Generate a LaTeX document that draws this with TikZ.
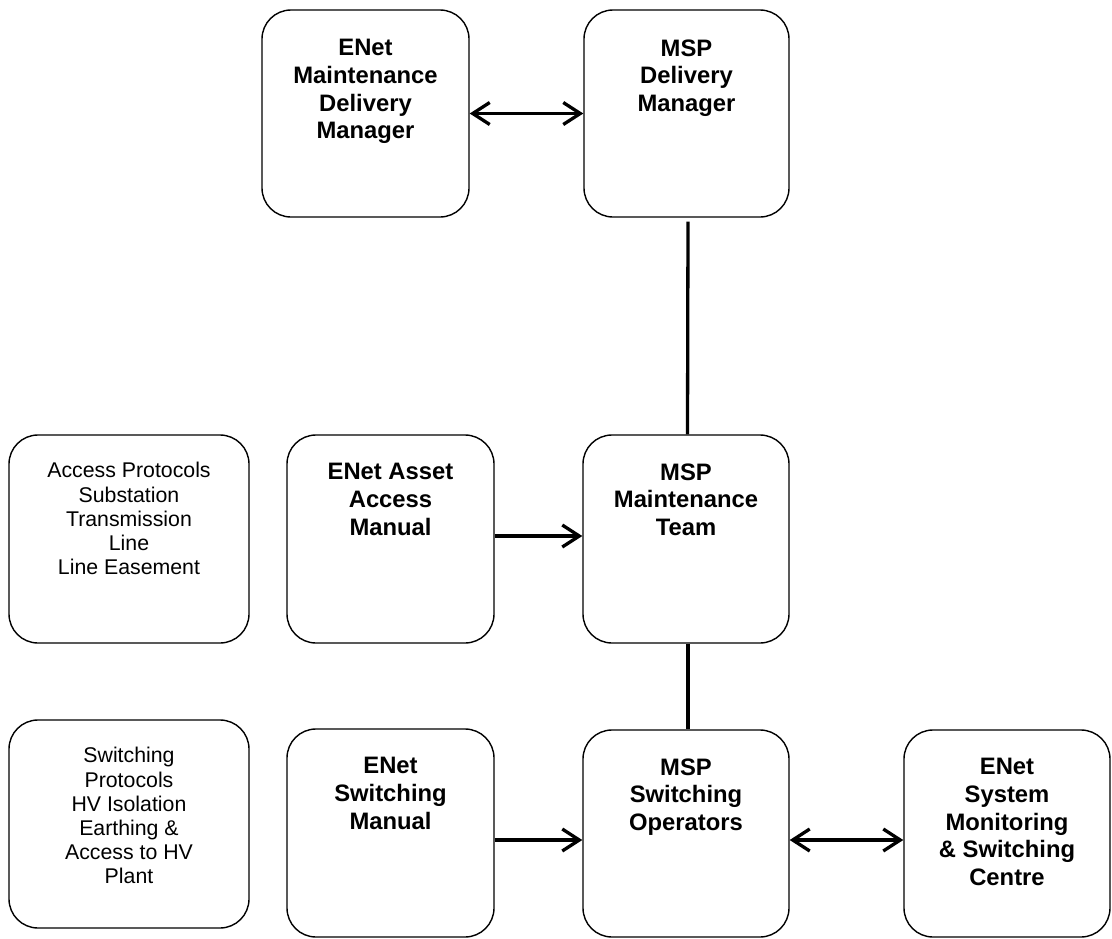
\documentclass[tikz,border=0pt]{standalone}
\usepackage{fontspec}
\setmainfont{Liberation Sans}
\usetikzlibrary{arrows.meta}
\begin{document}
\begin{tikzpicture}[x=1pt,y=-1pt,
  box/.style={draw=black, line width=1.4pt, rounded corners=29pt, inner sep=0pt},
  btxt/.style={anchor=north, align=center, inner sep=0pt, font=\fontsize{23.8}{27.7}\selectfont\bfseries},
  ptxt/.style={anchor=north, align=center, inner sep=0pt, font=\fontsize{21.3}{24.2}\selectfont},
  conn/.style={line width=3.3pt},
  tip/.tip={Straight Barb[length=17pt,width=22pt]},
  arr/.style={conn, -tip},
  darr/.style={conn, tip-tip}
]
\useasboundingbox (0,0) rectangle (1112,938);
\newcommand{\mybox}[5]{\node[box, minimum width=#4-#2, minimum height=#5-#3] (#1) at ({(#2+#4)/2},{(#3+#5)/2}) {};}
\mybox{b1}{262}{10}{469}{217}
\mybox{b2}{584}{10}{789}{217}
\mybox{b3}{9}{435}{249}{643}
\mybox{b4}{287}{435}{494}{643}
\mybox{b5}{583}{435}{789}{643}
\mybox{b6}{9}{720}{249}{928}
\mybox{b7}{287}{729}{494}{937}
\mybox{b8}{583}{730}{789}{937}
\mybox{b9}{904}{730}{1110}{937}

\node[btxt] (t1) at ([yshift=-30pt]b1.north) {ENet\\Maintenance\\Delivery\\Manager};
\node[btxt] (t2) at ([yshift=-30pt]b2.north) {MSP\\Delivery\\Manager};
\node[ptxt] (t3) at ([yshift=-28pt]b3.north) {Access Protocols\\Substation\\Transmission\\Line\\Line Easement};
\node[btxt] (t4) at ([yshift=-29pt]b4.north) {ENet Asset\\Access\\Manual};
\node[btxt] (t5) at ([yshift=-29pt]b5.north) {MSP\\Maintenance\\Team};
\node[ptxt] (t6) at ([yshift=-28pt]b6.north) {Switching\\Protocols\\HV Isolation\\Earthing \&\\Access to HV\\Plant};
\node[btxt] (t7) at ([yshift=-29pt]b7.north) {ENet\\Switching\\Manual};
\node[btxt] (t8) at ([yshift=-29pt]b8.north) {MSP\\Switching\\Operators};
\node[btxt] (t9) at ([yshift=-29pt]b9.north) {ENet\\System\\Monitoring\\\& Switching\\Centre};

\draw[darr] (b1.east) -- (b2.west);
\draw[conn] ([xshift=1.5pt,yshift=-4pt]b2.south) -- ([xshift=1.5pt]b5.north);
\draw[arr] ([yshift=3pt]b4.east) -- ([yshift=3pt]b5.west);
\draw[conn] ([xshift=2pt]b5.south) -- ([xshift=2pt]b8.north);
\draw[arr] ([yshift=-7pt]b7.east) -- ([yshift=-6.5pt]b8.west);
\draw[darr] ([yshift=-6.5pt]b8.east) -- ([yshift=-6.5pt]b9.west);
\end{tikzpicture}
\end{document}
